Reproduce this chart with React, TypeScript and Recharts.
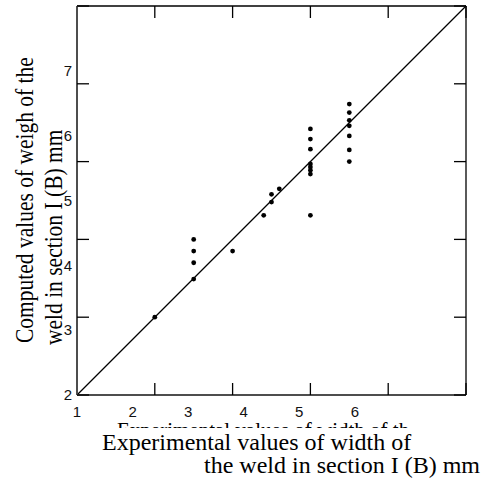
import { ScatterChart, Scatter, XAxis, YAxis, ReferenceLine } from "recharts";

// experimental width (x) vs computed width (y), mm
const EXP_X = [2.0, 2.5, 2.5, 2.5, 2.5, 3.0, 3.4, 3.5, 3.5, 3.6, 4.0, 4.0, 4.0, 4.0, 4.0, 4.0, 4.0, 4.0, 4.5, 4.5, 4.5, 4.5, 4.5, 4.5, 4.5];
const CALC_Y = [3.0, 4.0, 3.85, 3.7, 3.49, 3.85, 4.31, 4.48, 4.58, 4.65, 5.42, 5.29, 5.16, 4.97, 4.93, 4.89, 4.84, 4.31, 5.74, 5.63, 5.53, 5.46, 5.33, 5.15, 5.0];

// tick marks on the box
const X_MARKS = [1, 2, 3, 4, 5, 6];
const Y_MARKS = [2, 3, 4, 5, 6, 7];
// tick labels as printed (their own spacing)
const X_LABELS = [1, 2, 3, 4, 5, 6];
const Y_LABELS = [2, 3, 4, 5, 6, 7];

const points = EXP_X.map((x, i) => ({ x, y: CALC_Y[i] }));

const blank = () => "";
const tickFont = { fontSize: 15, fill: "#111", fontFamily: "'Liberation Sans', Arial, sans-serif" };
const serif = "'Liberation Serif', 'Times New Roman', serif";

export default function App() {
  return (
    <div style={{ position: "absolute", left: 0, top: 0, width: 486, height: 488, background: "#fff" }}>
      <ScatterChart width={486} height={488} margin={{ top: 6, right: 20, bottom: 63, left: 47 }}>
        {/* printed tick labels */}
        <XAxis xAxisId="xl" type="number" dataKey="x" domain={[1, 8]} ticks={X_LABELS} allowDataOverflow
          orientation="bottom" height={30} axisLine={false} tickLine={false} tickSize={0} tickMargin={11}
          interval={0} tick={tickFont} />
        <YAxis yAxisId="yl" type="number" dataKey="y" domain={[2, 8]} ticks={Y_LABELS} allowDataOverflow
          orientation="left" width={30} axisLine={false} tickLine={false} tickSize={0} tickMargin={5}
          interval={0} tick={tickFont} />

        {/* box with inward ticks */}
        <XAxis xAxisId="b" type="number" dataKey="x" domain={[1, 6]} ticks={X_MARKS} allowDataOverflow
          orientation="bottom" mirror tickSize={12} tickFormatter={blank} interval={0}
          axisLine={{ stroke: "#4d4d4d", strokeWidth: 2 }} tickLine={{ stroke: "#000", strokeWidth: 1.3 }} />
        <XAxis xAxisId="t" type="number" dataKey="x" domain={[1, 6]} ticks={X_MARKS} allowDataOverflow
          orientation="top" mirror tickSize={12} tickFormatter={blank} interval={0}
          axisLine={{ stroke: "#000", strokeWidth: 1.3 }} tickLine={{ stroke: "#000", strokeWidth: 1.3 }} />
        <YAxis yAxisId="l" type="number" dataKey="y" domain={[2, 7]} ticks={Y_MARKS} allowDataOverflow
          orientation="left" mirror tickSize={12} tickFormatter={blank} interval={0}
          axisLine={{ stroke: "#4d4d4d", strokeWidth: 2 }} tickLine={{ stroke: "#000", strokeWidth: 1.3 }} />
        <YAxis yAxisId="r" type="number" dataKey="y" domain={[2, 7]} ticks={Y_MARKS} allowDataOverflow
          orientation="right" mirror tickSize={12} tickFormatter={blank} interval={0}
          axisLine={{ stroke: "#000", strokeWidth: 1.3 }} tickLine={{ stroke: "#000", strokeWidth: 1.3 }} />

        <ReferenceLine xAxisId="b" yAxisId="l" segment={[{ x: 1, y: 2 }, { x: 6, y: 7 }]}
          stroke="#000" strokeWidth={1.2} />

        <Scatter xAxisId="b" yAxisId="l" data={points} isAnimationActive={false}
          shape={(p: any) => <circle cx={p.cx} cy={p.cy} r={2.4} fill="#000" />} />
      </ScatterChart>

      <svg width={486} height={488} style={{ position: "absolute", left: 0, top: 0, pointerEvents: "none" }}>
        <defs>
          <clipPath id="cut">
            <rect x={0} y={0} width={486} height={428} />
          </clipPath>
        </defs>
        <text x={117} y={437} fontSize={21} fontFamily={serif} fill="#000" clipPath="url(#cut)">
          Experimental values of width of th
        </text>
        <text x={102} y={450} fontSize={24} fontFamily={serif} fill="#000">
          Experimental values of width of
        </text>
        <text x={480} y={473} fontSize={24} fontFamily={serif} fill="#000" textAnchor="end">
          the weld in section I (B) mm
        </text>
        <text transform="translate(33,343) rotate(-90) scale(1,1.2)" fontSize={21.5} fontFamily={serif} fill="#000">
          Computed values of weigh of the
        </text>
        <text transform="translate(62,345) rotate(-90) scale(1,1.2)" fontSize={21.5} fontFamily={serif} fill="#000">
          weld in section I (B) mm
        </text>
      </svg>
    </div>
  );
}
